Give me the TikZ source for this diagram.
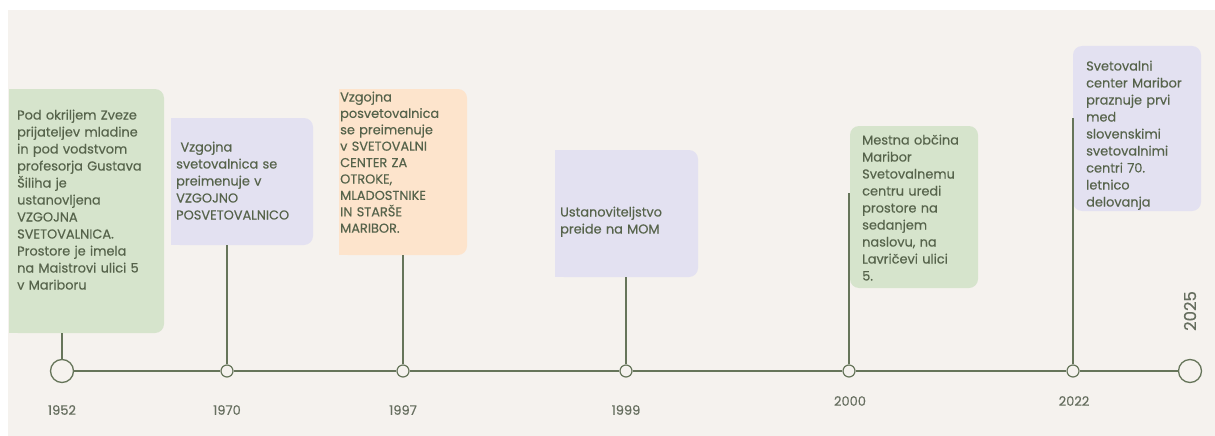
\documentclass[tikz,border=0pt]{standalone}
\usepackage{fontspec}
\setmainfont{Poppins}[FakeBold=0.35]
\definecolor{bg}{HTML}{F5F2EE}
\definecolor{lin}{HTML}{66755A}
\definecolor{txt}{HTML}{56634B}
\definecolor{yr}{HTML}{666E5F}
\definecolor{gbox}{HTML}{D6E4CC}
\definecolor{lbox}{HTML}{E3E1F1}
\definecolor{pbox}{HTML}{FDE4CC}
\tikzset{
  box/.style={rectangle, rounded corners=9pt, inner sep=0pt, outer sep=0pt, anchor=north west},
  boxtext/.style={text=txt, align=left, inner sep=0pt, anchor=base west, text width=150pt, font=\fontsize{12.9}{17}\selectfont},
  bigdot/.style={circle, draw=lin, line width=1.3pt, fill=bg, minimum size=23pt, inner sep=0pt},
  smalldot/.style={circle, draw=lin, line width=1.2pt, fill=bg, minimum size=12pt, inner sep=0pt},
  stem/.style={draw=lin, line width=1.1pt},
  year/.style={text=yr, font=\fontsize{13}{14}\selectfont, inner sep=0pt}
}
\begin{document}
\begin{tikzpicture}[x=1pt,y=-1pt]
\useasboundingbox (0,0) rectangle (1215,436);
\fill[white] (0,0) rectangle (1215,436);
\fill[bg] (8,10) rectangle (1215,436);
% boxes
\node[box, fill=gbox, minimum width=155pt, minimum height=244pt] (b1) at (9,89) {};
\fill[gbox] (9,89) rectangle (21,333);
\node[box, fill=lbox, minimum width=142pt, minimum height=127pt] (b2) at (171,118) {};
\fill[lbox] (171,118) rectangle (183,245);
\node[box, fill=pbox, minimum width=128pt, minimum height=166pt] (b3) at (339,89) {};
\fill[pbox] (339,89) rectangle (351,255);
\node[box, fill=lbox, minimum width=143pt, minimum height=127pt] (b4) at (555,150) {};
\fill[lbox] (555,150) rectangle (567,277);
\node[box, fill=gbox, minimum width=128pt, minimum height=162pt] (b5) at (850,126) {};
\node[box, fill=lbox, minimum width=128pt, minimum height=165pt] (b6) at (1073,46) {};
% texts
\node[boxtext] (t1) at (17,119.5) {Pod okriljem Zveze\\prijateljev mladine\\in pod vodstvom\\profesorja Gustava\\Šiliha je\\ustanovljena\\VZGOJNA\\SVETOVALNICA.\\Prostore je imela\\na Maistrovi ulici 5\\v Mariboru};
\node[boxtext] (t2) at (176,151.5) {\ Vzgojna\\svetovalnica se\\preimenuje v\\VZGOJNO\\POSVETOVALNICO};
\node[boxtext, font=\fontsize{12.9}{16.4}\selectfont] (t3) at (340,101.5) {Vzgojna\\posvetovalnica\\se preimenuje\\v SVETOVALNI\\CENTER ZA\\OTROKE,\\MLADOSTNIKE\\IN STARŠE\\MARIBOR.};
\node[boxtext] (t4) at (560,216.5) {Ustanoviteljstvo\\preide na MOM};
\node[boxtext] (t5) at (862,144.5) {Mestna občina\\Maribor\\Svetovalnemu\\centru uredi\\prostore na\\sedanjem\\naslovu, na\\Lavričevi ulici\\5.};
\node[boxtext] (t6) at (1086,70.5) {Svetovalni\\center Maribor\\praznuje prvi\\med\\slovenskimi\\svetovalnimi\\centri 70.\\letnico\\delovanja};
% timeline dots
\node[bigdot] (c1) at (62,371) {};
\node[smalldot] (c2) at (227,371) {};
\node[smalldot] (c3) at (403,371) {};
\node[smalldot] (c4) at (626,371) {};
\node[smalldot] (c5) at (849,371) {};
\node[smalldot] (c6) at (1073,371) {};
\node[bigdot] (c7) at (1190,371) {};
\draw[stem] (c1) -- (c2) -- (c3) -- (c4) -- (c5) -- (c6) -- (c7);
% stems
\coordinate (s5) at (849,193);
\coordinate (s6) at (1073,118);
\draw[stem] (c1.north) -- (c1.north |- b1.south);
\draw[stem] (c2.north) -- (c2.north |- b2.south);
\draw[stem] (c3.north) -- (c3.north |- b3.south);
\draw[stem] (c4.north) -- (c4.north |- b4.south);
\draw[stem] (c5.north) -- (s5);
\draw[stem] (c6.north) -- (s6);
% years
\node[year] (y1) at (62,410) {1952};
\node[year] (y2) at (227,410) {1970};
\node[year] (y3) at (403,410) {1997};
\node[year] (y4) at (626,410) {1999};
\node[year] (y5) at (850,401) {2000};
\node[year] (y6) at (1074,401) {2022};
\node[year, rotate=90, font=\fontsize{16.5}{18}\selectfont] (y7) at (1190,311) {2025};
\end{tikzpicture}
\end{document}
